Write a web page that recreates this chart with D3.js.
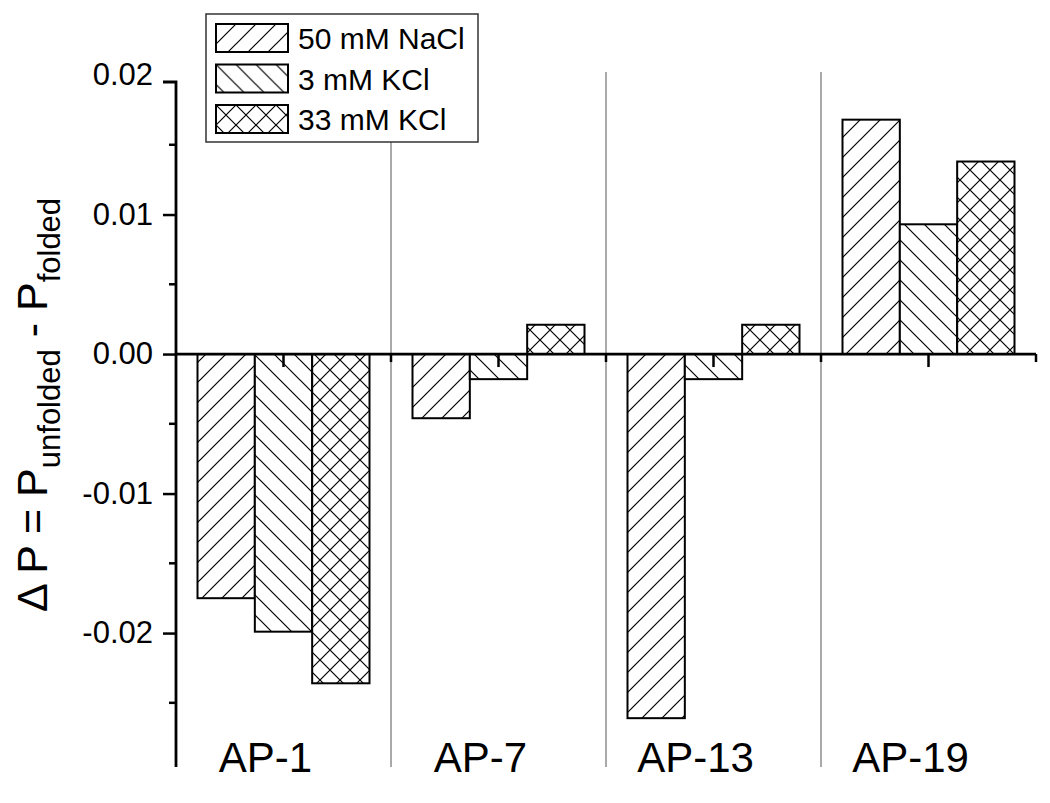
<!DOCTYPE html>
<head>
  <meta charset="utf-8">
  <script src="https://d3js.org/d3.v7.min.js"></script>
</head>
<style>
  body { margin: 0; background: #fff; }
  text { font-family: "Liberation Sans", Arial, Helvetica, sans-serif; fill: #000; }
</style>
<body>
<div id="chart"></div>
<script>
'use strict';

var categories = ["AP-1", "AP-7", "AP-13", "AP-19"];
var seriesNames = ["50 mM NaCl", "3 mM KCl", "33 mM KCl"];
var nacl50 = [-0.0175, -0.0046, -0.0261, 0.0168];
var kcl3 = [-0.0199, -0.0018, -0.0018, 0.0093];
var kcl33 = [-0.0236, 0.0021, 0.0021, 0.0138];
var yMajor = [-0.02, -0.01, 0.00, 0.01, 0.02];
var yMinor = [-0.025, -0.015, -0.005, 0.005, 0.015];

var width = 1050, height = 803;
var plotLeft = 176, plotRight = 1036, plotTop = 82, plotBottom = 767;

var svg = d3.select("#chart").append("svg")
  .attr("width", width).attr("height", height);

// hatch patterns
var defs = svg.append("defs");
var patterns = [
  {id: "hatch-up", d: "M0,20 L20,0 M-5,5 L5,-5 M15,25 L25,15"},
  {id: "hatch-down", d: "M0,0 L20,20 M-5,15 L5,25 M15,-5 L25,5"},
  {id: "hatch-cross", d: "M0,20 L20,0 M-5,5 L5,-5 M15,25 L25,15 M0,0 L20,20 M-5,15 L5,25 M15,-5 L25,5"}
];
patterns.forEach(function(p) {
  var pat = defs.append("pattern").attr("id", p.id)
    .attr("patternUnits", "userSpaceOnUse")
    .attr("width", 20).attr("height", 20);
  pat.append("rect").attr("width", 20).attr("height", 20).attr("fill", "#fff");
  pat.append("path").attr("d", p.d).attr("stroke", "#000").attr("stroke-width", 1.2).attr("fill", "none");
});

var x0 = d3.scaleBand().domain(categories).range([plotLeft, plotRight]);
var x1 = d3.scaleBand().domain(seriesNames).range([0.1 * x0.bandwidth(), 0.9 * x0.bandwidth()]);
var y = d3.scaleLinear().domain([-0.0296, 0.0195]).range([plotBottom, plotTop]);

// separators between categories
svg.append("g").selectAll("line")
  .data(categories.slice(1)).enter().append("line")
  .attr("x1", d => x0(d)).attr("x2", d => x0(d))
  .attr("y1", 72).attr("y2", plotBottom)
  .attr("stroke", "#555").attr("stroke-width", 1);

// bars
var seriesData = [nacl50, kcl3, kcl33];
var rows = [];
categories.forEach(function(c, i) {
  seriesNames.forEach(function(s, j) {
    rows.push({cat: c, series: s, value: seriesData[j][i], pattern: patterns[j].id});
  });
});

svg.append("g").selectAll("rect")
  .data(rows).enter().append("rect")
  .attr("x", d => x0(d.cat) + x1(d.series))
  .attr("y", d => y(Math.max(0, d.value)))
  .attr("width", x1.bandwidth())
  .attr("height", d => Math.abs(y(d.value) - y(0)))
  .attr("fill", d => "url(#" + d.pattern + ")")
  .attr("stroke", "#000").attr("stroke-width", 2);

// y axis
var yAxis = svg.append("g").attr("transform", "translate(" + plotLeft + ",0)");
yAxis.call(d3.axisLeft(y).tickValues(yMajor).tickSize(13).tickSizeOuter(0).tickPadding(10)
  .tickFormat(d => d.toFixed(2)));
yAxis.select(".domain").remove();
yAxis.selectAll(".tick line").attr("stroke-width", 2.5)
  .filter(d => d > 0.0195).remove();
yAxis.selectAll(".tick text").attr("font-size", 31).attr("font-family", "Liberation Sans, Arial, sans-serif");
yAxis.append("path").attr("d", "M-13," + plotTop + "H0V" + plotBottom)
  .attr("fill", "none").attr("stroke", "#000").attr("stroke-width", 2.8);
yAxis.selectAll(".minor").data(yMinor).enter().append("line")
  .attr("class", "minor")
  .attr("x1", -7).attr("x2", 0)
  .attr("y1", d => y(d)).attr("y2", d => y(d))
  .attr("stroke", "#000").attr("stroke-width", 2.5);

// x axis at zero
var xAxis = svg.append("g").attr("transform", "translate(0," + y(0) + ")");
xAxis.append("line").attr("x1", plotLeft).attr("x2", plotRight)
  .attr("stroke", "#000").attr("stroke-width", 2.8);
xAxis.selectAll(".major").data(categories).enter().append("line")
  .attr("class", "major")
  .attr("x1", d => x0(d) + x0.bandwidth() / 2).attr("x2", d => x0(d) + x0.bandwidth() / 2)
  .attr("y1", 0).attr("y2", 13)
  .attr("stroke", "#000").attr("stroke-width", 2.5);
xAxis.selectAll(".minor").data(categories).enter().append("line")
  .attr("class", "minor")
  .attr("x1", d => x0(d) + x0.bandwidth()).attr("x2", d => x0(d) + x0.bandwidth())
  .attr("y1", 0).attr("y2", 8)
  .attr("stroke", "#000").attr("stroke-width", 2.5);

// category labels at bottom
svg.append("g").selectAll("text")
  .data(categories).enter().append("text")
  .attr("x", d => x0(d) + x0.bandwidth() / 2 - 18)
  .attr("y", 772)
  .attr("text-anchor", "middle")
  .attr("font-size", 42)
  .text(d => d);

// y label
var ylab = svg.append("text")
  .attr("transform", "translate(47,405) rotate(-90)")
  .attr("text-anchor", "middle")
  .attr("font-size", 43);
ylab.append("tspan").text("\u0394 P = P");
ylab.append("tspan").attr("font-size", 31).attr("dy", 13).text("unfolded");
ylab.append("tspan").attr("dy", -13).text(" - P");
ylab.append("tspan").attr("font-size", 31).attr("dy", 13).text("folded");

// legend
var legend = svg.append("g");
legend.append("rect")
  .attr("x", 206).attr("y", 14).attr("width", 272).attr("height", 128)
  .attr("fill", "#fff").attr("stroke", "#333").attr("stroke-width", 1.5);
var items = legend.selectAll(".item").data(seriesNames).enter().append("g")
  .attr("class", "item")
  .attr("transform", (d, i) => "translate(216," + (24 + i * 40.5) + ")");
items.append("rect").attr("width", 72).attr("height", 28)
  .attr("fill", (d, i) => "url(#" + patterns[i].id + ")")
  .attr("stroke", "#000").attr("stroke-width", 2);
items.append("text").attr("x", 82).attr("y", 25)
  .attr("font-size", 30).text(d => d);
</script>
</body>
